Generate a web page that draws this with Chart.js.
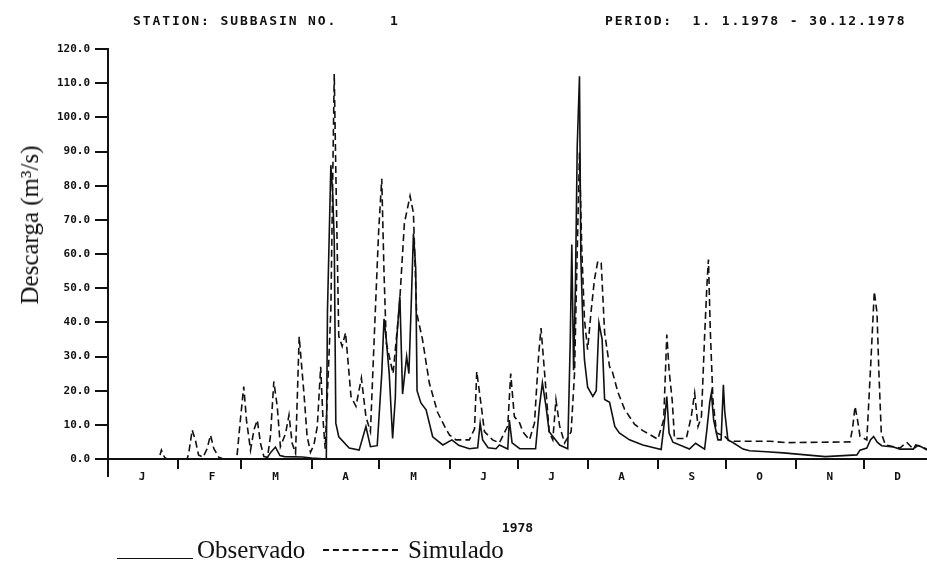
<!DOCTYPE html>
<html>
<head>
<meta charset="utf-8">
<script src="https://cdn.jsdelivr.net/npm/chart.js@4/dist/chart.umd.min.js"></script>
<style>
  html, body { margin:0; padding:0; background:#fff; }
  #wrap { position:relative; width:927px; height:561px; overflow:hidden; }
  .hdr { position:absolute; top:14px; font:bold 13px/13px 'DejaVu Sans Mono', monospace; letter-spacing:1.9px; white-space:pre; color:#111; }
  .ytitle { position:absolute; left:30px; top:225px; transform:translate(-50%,-50%) rotate(-90deg);
            font:25px 'Liberation Serif', serif; white-space:nowrap; color:#111; }
  .leg { position:absolute; top:537px; font:25px/25px 'Liberation Serif', serif; white-space:nowrap; color:#111; }
  .legline { position:absolute; height:0; }
</style>
</head>
<body>
<div id="wrap">
  <canvas id="chart" width="927" height="561"></canvas>
  <div class="hdr" style="left:133px">STATION: SUBBASIN NO.</div>
  <div class="hdr" style="left:390px">1</div>
  <div class="hdr" style="left:605px">PERIOD:  1. 1.1978 - 30.12.1978</div>
  <div class="ytitle">Descarga (m³/s)</div>
  <div class="legline" style="left:117px; top:558px; width:76px; border-top:1.5px solid #111"></div>
  <div class="leg" style="left:197px">Observado</div>
  <div class="legline" style="left:323px; top:549px; width:75px; border-top:2px dashed #111"></div>
  <div class="leg" style="left:408px">Simulado</div>
</div>
<script>
// day of year (0 = 1 Jan) and discharge
const obsDays = [0,70,72,74,76,78,86,90,96.5,97,98.5,99.3,100,100.7,102,106.6,111,114,116,119,121,122,123,124.3,125.8,127,127.6,129,130.2,132,133,134,135,136,136.6,138.3,140.6,143.5,148,152,155,159.7,163.4,164.5,165.6,168,171.5,173,176.7,177.4,178.6,182,189,190.7,192,193.6,195,199.6,203.2,204.3,205,205.8,206.6,207.4,208.4,209,210,210.6,212,214.3,215.8,217,218.4,219.5,221.7,224,226,230.5,236.4,244.5,246,247,248,249.7,257,259.7,263.7,264.7,266,266.7,267.7,269.6,271,272,272.6,274,276,280.7,283.6,291,298.5,317,331,332.4,335.4,337,338.4,340,342,347.2,350,356,357,359.7,362];
const obsVals = [0,0,2,3.5,1,0.7,0.6,0.3,0,43,86,78,64,10.5,6.5,3.2,2.6,9.5,3.6,3.9,25,41,35,25,6,18,35,47.6,19,30,25,44.7,66,56,20,16.4,14.4,6.5,4.1,5.6,4,3,3.3,10.5,5.6,3.3,3,4.1,2.9,11.4,4.7,3,3,15.4,22.3,15.4,8,4.1,3,34,62.8,26,50.6,91.6,112,59,37,29,21,18.3,20,39.8,35,17.4,16.6,9.5,7.6,5.6,4.1,2.8,11.4,18.3,7.6,4.9,2.9,4.6,2.9,8.5,16.8,19.3,11.4,5.6,5.6,21.7,13.9,5.6,4.9,2.9,2.4,2.1,1.8,0.7,1.2,2.6,3.2,5.6,6.6,4.9,3.9,3.5,2.9,2.9,4.1,3.5,2.6];

const simDays = [0,22.5,23.6,25,26,35,35.7,37.2,38.6,40,42,43.8,45.3,46.8,49,51,56,57,58.5,60,61.2,63,64.5,66,67.4,68.9,70.5,71.8,73.3,74.8,76.2,78.5,80,81.4,82.9,84.5,86.6,88,89.5,91,92.5,94,95,96,98.5,100,100.7,102,103.5,105,107.4,109.6,112,114,116,117.7,119.6,121,122,123,126,128.8,131,133.5,135,136.4,139,142,145.7,149.4,151,153.8,159.7,162,163,165,166.4,170,173,176.7,178,179.6,182,183.3,186.3,188.5,190.4,191.4,193,195,196.6,198,199.6,201.8,204.7,206.2,207.2,208.4,209.4,210.6,212,213.5,215,216.5,218,219.5,221.7,223,225.4,228.3,232.7,236.4,243,245.6,247,248,249.4,250.4,255.6,257.8,259.3,260.8,262.3,263.7,264.7,265.4,266.2,267.4,269,272.6,274.8,292.5,300,328,329.2,330.2,331.3,332.4,335.4,337,338.1,338.7,339.9,340.7,341.8,343.6,350,353,356,358,362];
const simVals = [0,0,2.6,0.5,0,0,1.7,8.5,5.6,1.2,0.5,3,7,3,0.5,0,0,0.7,11.4,21.2,11.4,2.6,8.5,11.4,4.6,0.7,0.5,6.7,22.7,15.4,3.6,7.5,12.9,4.6,1.7,35.8,19.3,6.7,2,4.1,9.5,27,12,3,43.7,112.7,84,36,33,37,18.3,15.4,23.7,12.4,8,36,66.3,82,54.5,34,25,44.7,69,77,72,42.8,35,22.3,13.6,8.8,7,5.6,5.6,8.8,25.6,15.4,8,5.6,4.7,9.7,25,12.4,10.5,8,5.6,10.5,31,38.3,25,8,5.6,17.3,9.7,4.7,8,25,54.8,89.7,61.6,40.8,32,43,52.5,57.9,57.4,37,27,25.4,19.5,14.6,10.2,8.3,5.8,11.4,36.4,26,17,6,6,12.4,19.3,9.5,12.4,35.9,50.6,58.4,38,17,7.6,6.6,5.2,5.2,4.8,5,9.5,15.4,11.4,6.6,5.6,26,40.8,49,42.8,26,7.6,4.1,3.2,4.9,2.9,4,2.9];

const monthStarts = [0,31,59,90,120,151,181,212,243,273,304,334];
const monthLabels = ['J','F','M','A','M','J','J','A','S','O','N','D'];

const pts = (xs, ys) => xs.map((x,i) => ({x, y: ys[i]}));
const pixFont = { family: "'DejaVu Sans Mono', monospace", size: 11, weight: 'bold' };

// y axis line runs a little below zero like the original
const axisStub = {
  id: 'axisStub',
  afterDraw(chart){
    const {ctx, chartArea} = chart;
    ctx.save();
    ctx.strokeStyle = '#111'; ctx.lineWidth = 2;
    ctx.beginPath();
    ctx.moveTo(chartArea.left, chartArea.bottom);
    ctx.lineTo(chartArea.left, chartArea.bottom + 18);
    ctx.stroke();
    ctx.restore();
  }
};

new Chart(document.getElementById('chart'), {
  type: 'line',
  data: {
    datasets: [
      { label: 'Observado', data: pts(obsDays, obsVals), borderColor: '#111', borderWidth: 1.6, pointRadius: 0, tension: 0 },
      { label: 'Simulado', data: pts(simDays, simVals), borderColor: '#111', borderWidth: 1.6, borderDash: [7,4], pointRadius: 0, tension: 0 }
    ]
  },
  options: {
    responsive: false,
    animation: false,
    devicePixelRatio: 1,
    layout: { padding: { top: 49, left: 0, right: 0, bottom: 0 } },
    plugins: { legend: { display: false }, tooltip: { enabled: false } },
    scales: {
      x: {
        type: 'linear', min: 0, max: 362,
        afterFit: s => { s.height = 102; },
        afterBuildTicks: s => { s.ticks = monthStarts.map(v => ({ value: v })); },
        grid: { drawOnChartArea: false, drawTicks: true, tickLength: 10, color: '#111', lineWidth: 2 },
        border: { color: '#111', width: 2 },
        ticks: { autoSkip: false, maxRotation: 0, labelOffset: 34, padding: 2, color: '#111', font: pixFont,
                 callback: (v, i) => monthLabels[i] },
        title: { display: true, text: '1978', color: '#111', padding: { top: 0, bottom: 25 },
                 font: { family: "'DejaVu Sans Mono', monospace", size: 13, weight: 'bold' } }
      },
      y: {
        min: 0, max: 120,
        afterFit: s => { s.width = 108; },
        grid: { drawOnChartArea: false, drawTicks: true, tickLength: 13, color: '#111', lineWidth: 2 },
        border: { color: '#111', width: 2 },
        ticks: { stepSize: 10, padding: 5, color: '#111', font: pixFont, callback: v => v.toFixed(1) }
      }
    }
  },
  plugins: [axisStub]
});
</script>
</body>
</html>
